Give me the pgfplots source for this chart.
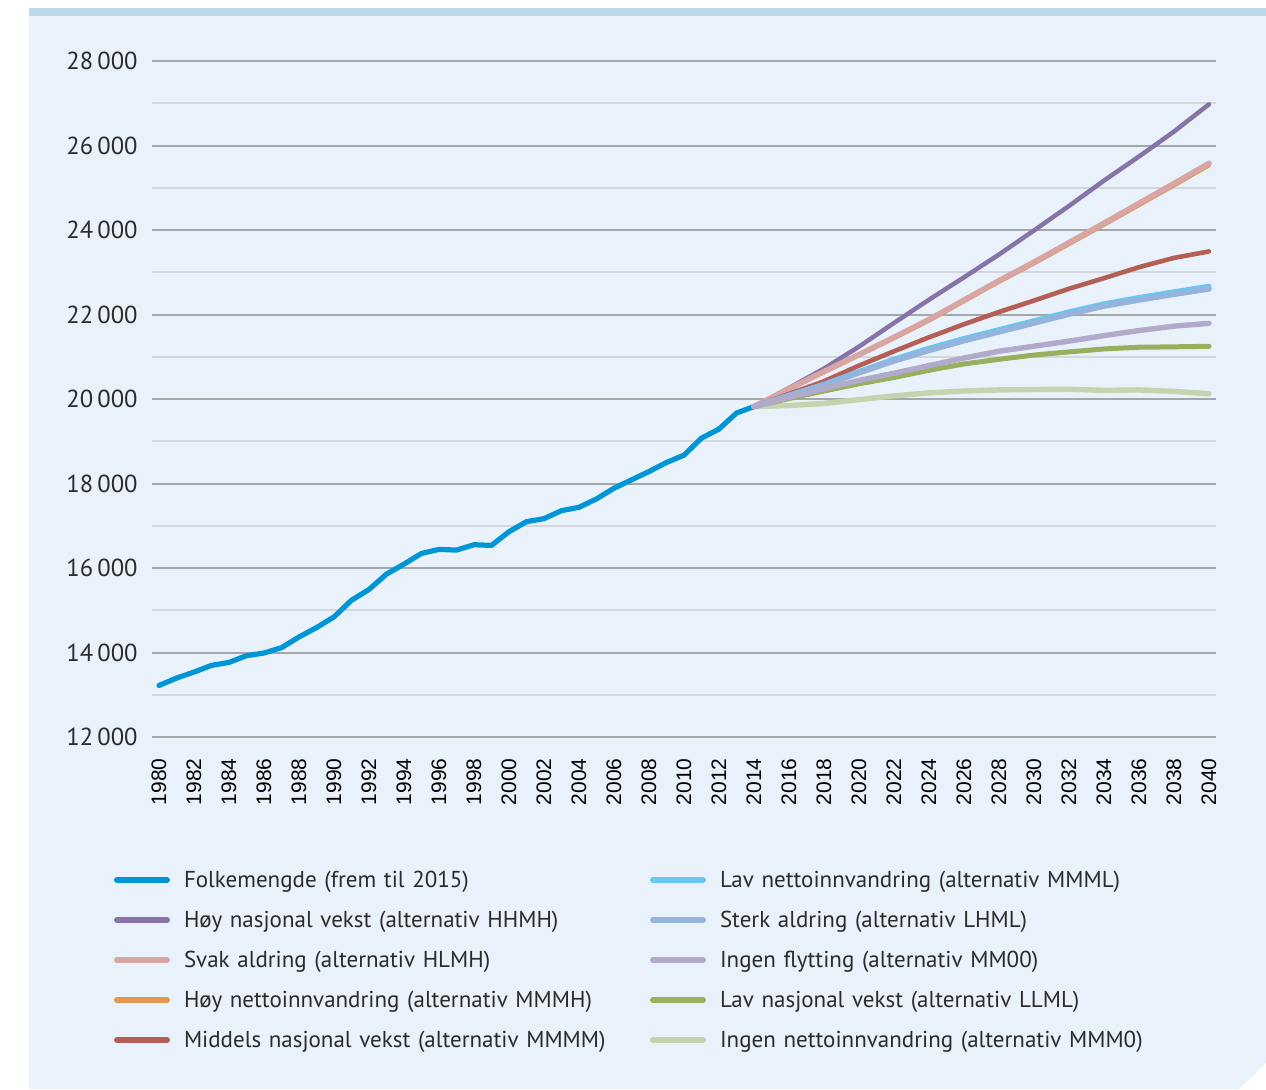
\documentclass[border=0pt]{standalone}
\usepackage{fontspec}
\setmainfont{PT Sans}
\newfontfamily\legfont[FakeStretch=1.0]{PT Sans}
\newfontfamily\yearfont{Liberation Sans}
\usepackage{pgfplots}
\pgfplotsset{compat=1.18}
\usepackage{pgfplotstable}
\definecolor{bgblue}{HTML}{E9F2FA}
\definecolor{topbar}{HTML}{BBD9EB}
\definecolor{folk}{HTML}{0096D6}
\definecolor{hhmh}{HTML}{8674A6}
\definecolor{hlmh}{HTML}{D7A6A3}
\definecolor{mmmh}{HTML}{E2964F}
\definecolor{mmmm}{HTML}{B55E55}
\definecolor{mmml}{HTML}{69C7EF}
\definecolor{lhml}{HTML}{95B3DB}
\definecolor{mm00}{HTML}{B2AACC}
\definecolor{llml}{HTML}{98AF5E}
\definecolor{mmm0}{HTML}{C5D3AE}
\definecolor{gridmaj}{HTML}{A5A8AB}
\definecolor{gridmin}{HTML}{D3D7DB}
\definecolor{textcol}{HTML}{2B2B2B}
\newcommand\legsz{\legfont\fontsize{11.5pt}{13pt}\selectfont}
\newcommand\ysz{\legfont\fontsize{12.3pt}{14pt}\selectfont}
\newcommand\yearsz{\yearfont\fontsize{10.5pt}{12pt}\selectfont}

\pgfplotstableread{
year pop
1980 13220
1981 13394
1982 13537
1983 13695
1984 13766
1985 13924
1986 13988
1987 14114
1988 14367
1989 14589
1990 14842
1991 15237
1992 15491
1993 15855
1994 16092
1995 16345
1996 16440
1997 16424
1998 16551
1999 16535
2000 16859
2001 17097
2002 17168
2003 17358
2004 17437
2005 17635
2006 17888
2007 18086
2008 18283
2009 18497
2010 18671
2011 19074
2012 19288
2013 19668
2014 19820
}\hist

\pgfplotstableread{
year hhmh hlmh mmmh mmmm mmml lhml mm00 llml mmm0
2014 19820 19820 19820 19820 19820 19820 19820 19820 19820
2016 20260 20240 20235 20120 20090 20080 20040 20010 19845
2018 20720 20650 20640 20420 20350 20330 20240 20190 19895
2020 21240 21050 21040 20790 20650 20620 20440 20360 19985
2022 21800 21460 21445 21130 20940 20900 20610 20510 20075
2024 22350 21880 21860 21460 21200 21150 20790 20680 20145
2026 22880 22340 22320 21770 21430 21380 20970 20830 20190
2028 23420 22800 22780 22060 21640 21590 21130 20940 20215
2030 23990 23240 23215 22330 21850 21798 21250 21040 20225
2032 24570 23700 23672 22610 22060 22010 21370 21115 20230
2034 25170 24160 24130 22860 22250 22200 21500 21185 20205
2036 25740 24630 24595 23120 22400 22345 21620 21225 20215
2038 26330 25100 25062 23340 22535 22480 21725 21235 20180
2040 26976 25578 25538 23493 22668 22606 21790 21248 20125
}\proj

\begin{document}
\begin{tikzpicture}
\useasboundingbox (-76pt,-176pt) rectangle (557pt,368.5pt);
\fill[white] (-76pt,-176pt) rectangle (557pt,368.5pt);
\fill[bgblue] (-61.5pt,360.5pt) -- (557pt,360.5pt) -- (557pt,-163pt) -- (543.5pt,-176pt) -- (-61.5pt,-176pt) -- cycle;
\fill[topbar] (-61.5pt,360.5pt) rectangle (557pt,364.5pt);
\begin{axis}[
  at={(0pt,0pt)}, anchor=south west,
  scale only axis, width=532pt, height=338pt,
  xmin=1979.6, xmax=2040.4, ymin=12000, ymax=28000,
  axis line style={draw=none},
  major tick length=0pt, minor tick length=0pt,
  xtick={1980,1982,...,2040},
  ytick={12000,14000,...,28000},
  minor ytick={13000,15000,...,27000},
  scaled y ticks=false, scaled x ticks=false,
  ymajorgrids, yminorgrids,
  major grid style={draw=gridmaj, line width=1pt},
  minor grid style={draw=gridmin, line width=0.9pt},
  x tick label style={/pgf/number format/1000 sep={}, /pgf/number format/assume math mode=true,
     font=\yearsz, text=black, yshift=-10.5pt, rotate=90, anchor=east, inner sep=0pt},
  y tick label style={/pgf/number format/1000 sep={\,}, /pgf/number format/assume math mode=true,
     /pgf/number format/fixed,
     font=\ysz, text=textcol, anchor=east, inner sep=0pt, xshift=-7pt},
  clip=false,
  legend columns=2,
  legend cell align=left,
  legend style={at={(-0.0357,-0.1953)}, anchor=north west, draw=none, fill=none,
     inner sep=0pt, outer sep=0pt, font=\legsz, text=textcol,
     row sep=9pt,
     /tikz/every odd column/.style={column sep=7pt},
     nodes={inner sep=0pt, text height=9pt, text depth=2pt, text width=233pt, align=left}},
  legend image code/.code={\draw[#1, line width=3pt, line cap=round] (0pt,0pt) -- (25pt,0pt);},
  every axis plot/.append style={line cap=round, line join=round},
]
\addplot[folk, line width=2.6pt, forget plot] table[x=year,y=pop]{\hist};
\addplot[mmm0, line width=2.7pt, forget plot] table[x=year,y=mmm0]{\proj};
\addplot[hhmh, line width=2.25pt, forget plot] table[x=year,y=hhmh]{\proj};
\addplot[mmmh, line width=2.3pt, forget plot] table[x=year,y=mmmh]{\proj};
\addplot[hlmh, line width=2.8pt, forget plot] table[x=year,y=hlmh]{\proj};
\addplot[mmmm, line width=2.3pt, forget plot] table[x=year,y=mmmm]{\proj};
\addplot[mmml, line width=2.6pt, forget plot] table[x=year,y=mmml]{\proj};
\addplot[lhml, line width=2.8pt, forget plot] table[x=year,y=lhml]{\proj};
\addplot[llml, line width=2.5pt, forget plot] table[x=year,y=llml]{\proj};
\addplot[mm00, line width=2.7pt, forget plot] table[x=year,y=mm00]{\proj};

\addlegendimage{folk}\addlegendentry{Folkemengde (frem til 2015)}
\addlegendimage{mmml}\addlegendentry{Lav nettoinnvandring (alternativ MMML)}
\addlegendimage{hhmh}\addlegendentry{Høy nasjonal vekst (alternativ HHMH)}
\addlegendimage{lhml}\addlegendentry{Sterk aldring (alternativ LHML)}
\addlegendimage{hlmh}\addlegendentry{Svak aldring (alternativ HLMH)}
\addlegendimage{mm00}\addlegendentry{Ingen flytting (alternativ MM00)}
\addlegendimage{mmmh}\addlegendentry{Høy nettoinnvandring (alternativ MMMH)}
\addlegendimage{llml}\addlegendentry{Lav nasjonal vekst (alternativ LLML)}
\addlegendimage{mmmm}\addlegendentry{Middels nasjonal vekst (alternativ MMMM)}
\addlegendimage{mmm0}\addlegendentry{Ingen nettoinnvandring (alternativ MMM0)}
\end{axis}
\end{tikzpicture}
\end{document}
